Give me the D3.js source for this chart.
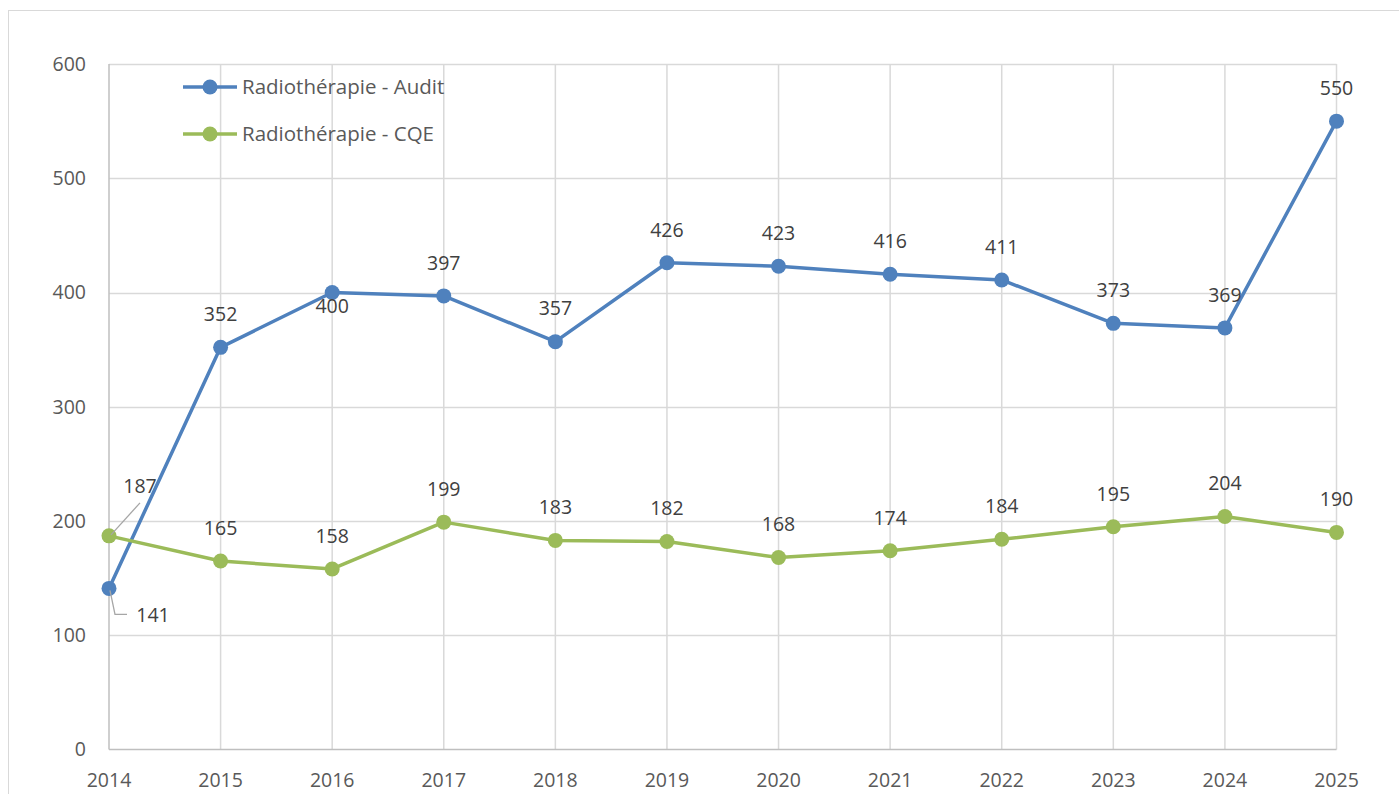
<!DOCTYPE html>
<html><head><meta charset="utf-8">
<script src="https://cdn.jsdelivr.net/npm/d3@7"></script>
<style>body{margin:0;background:#fff}svg{display:block}</style>
</head><body>
<script>
const years = [2014,2015,2016,2017,2018,2019,2020,2021,2022,2023,2024,2025];
const audit = [141,352,400,397,357,426,423,416,411,373,369,550];
const cqe = [187,165,158,199,183,182,168,174,184,195,204,190];
const yTicks = [0,100,200,300,400,500,600];
const seriesNames = ["Radiothérapie - Audit","Radiothérapie - CQE"];
const colors = ["#4f81bd","#9bbb59"];

const W=1399,H=794;
const svg=d3.select("body").append("svg").attr("width",W).attr("height",H);
svg.append("rect").attr("x",8.5).attr("y",10.5).attr("width",W).attr("height",H).attr("fill","#fff").attr("stroke","#d9d9d9");

const x=d3.scalePoint().domain(years).range([109,1336.5]);
const y=d3.scaleLinear().domain([0,600]).range([749.5,64]);
const font="'Open Sans', sans-serif";
const tcol="#595959";
const fs=19.5;
const R=7.5, SW=3.5;

// grid
svg.append("g").selectAll("line").data(yTicks.filter(d=>d>0)).join("line")
 .attr("x1",109).attr("x2",1336.5).attr("y1",d=>Math.round(y(d))+0.5).attr("y2",d=>Math.round(y(d))+0.5)
 .attr("stroke","#d9d9d9").attr("stroke-width",1.5);
svg.append("g").selectAll("line").data(years.slice(1)).join("line")
 .attr("x1",d=>x(d)).attr("x2",d=>x(d)).attr("y1",64).attr("y2",749.5)
 .attr("stroke","#d9d9d9").attr("stroke-width",1.5);
// axes lines
svg.append("line").attr("x1",109).attr("x2",109).attr("y1",64).attr("y2",749.5).attr("stroke","#bfbfbf").attr("stroke-width",1.5);
svg.append("line").attr("x1",109).attr("x2",1336.5).attr("y1",749.5).attr("y2",749.5).attr("stroke","#bfbfbf").attr("stroke-width",1.5);

// tick labels
svg.append("g").selectAll("text").data(yTicks).join("text")
 .attr("x",86).attr("y",d=>y(d)).attr("dy","0.35em").attr("text-anchor","end")
 .attr("font-family",font).attr("font-size",fs).attr("fill",tcol).text(d=>d);
svg.append("g").selectAll("text").data(years).join("text")
 .attr("x",d=>x(d)).attr("y",780).attr("dy","0.35em").attr("text-anchor","middle")
 .attr("font-family",font).attr("font-size",fs).attr("fill",tcol).text(d=>d);

const line=d3.line().x((d,i)=>x(years[i])).y(d=>y(d));
[audit,cqe].forEach((s,k)=>{
  svg.append("path").datum(s).attr("d",line).attr("fill","none").attr("stroke",colors[k]).attr("stroke-width",SW).attr("stroke-linejoin","round");
});
[cqe,audit].forEach((s)=>{
  const k = s===audit?0:1;
  svg.append("g").selectAll("circle").data(s).join("circle")
   .attr("cx",(d,i)=>x(years[i])).attr("cy",d=>y(d)).attr("r",R).attr("fill",colors[k]);
});

// data labels
function lab(xx,yy,t){svg.append("text").attr("x",xx).attr("y",yy).attr("dy","0.35em").attr("text-anchor","middle")
 .attr("font-family",font).attr("font-size",fs).attr("fill","#404040").text(t);}
audit.forEach((v,i)=>{
  if(i===0) return;
  const dy = i===2 ? 14 : -33;
  lab(x(years[i]), y(v)+dy, v);
});
cqe.forEach((v,i)=>{
  if(i===0) return;
  lab(x(years[i]), y(v)-33, v);
});
// leader labels for 2014
const lc="#a6a6a6";
svg.append("line").attr("x1",x(2014)+2).attr("y1",y(cqe[0])-1).attr("x2",x(2014)+31).attr("y2",y(cqe[0])-33).attr("stroke",lc).attr("stroke-width",1.3);
lab(x(2014)+31, y(cqe[0])-50, cqe[0]);
svg.append("polyline").attr("points",`${x(2014)+1},${y(audit[0])+2} ${x(2014)+6},${y(audit[0])+26} ${x(2014)+18},${y(audit[0])+26}`)
 .attr("fill","none").attr("stroke",lc).attr("stroke-width",1.3);
lab(x(2014)+44, y(audit[0])+27, audit[0]);

// legend
seriesNames.forEach((n,k)=>{
  const ly = 87 + k*47;
  svg.append("line").attr("x1",183).attr("x2",237).attr("y1",ly).attr("y2",ly).attr("stroke",colors[k]).attr("stroke-width",SW);
  svg.append("circle").attr("cx",210).attr("cy",ly).attr("r",R).attr("fill",colors[k]);
  svg.append("text").attr("x",242).attr("y",ly).attr("dy","0.35em").attr("font-family",font).attr("font-size",20.5).attr("fill",tcol).text(n);
});
</script>
</body></html>
